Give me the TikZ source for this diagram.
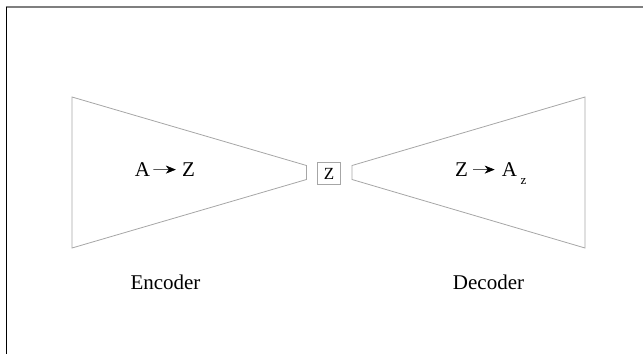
\documentclass[tikz,border=0pt]{standalone}
\usepackage{fontspec}
\setmainfont{Liberation Serif}
\usetikzlibrary{arrows.meta}
\definecolor{stageline}{HTML}{A6A6A6}
\definecolor{frameline}{HTML}{7F7F7F}
\tikzset{
  stage/.style={draw=stageline, line width=0.8pt, line join=miter},
  maplabel/.style={font=\fontsize{21}{24}\selectfont, inner sep=0pt, anchor=base},
  sublabel/.style={font=\fontsize{13}{14}\selectfont, inner sep=0pt, anchor=base},
  caption/.style={font=\fontsize{21}{24}\selectfont, inner sep=0pt, anchor=base},
  latentbox/.style={draw=stageline, line width=0.8pt, minimum width=23pt,
                    minimum height=22pt, inner sep=0pt, font=\fontsize{17}{17}\selectfont},
  mapsto/.style={-{Stealth[length=10pt, width=8pt, inset=3pt]}, line width=0.5pt},
}

\begin{document}
\begin{tikzpicture}[x=1pt, y=-1pt]
    \useasboundingbox (0,0) rectangle (643,354);
    \draw[frameline, line width=1.5pt] (5.5,7) -- (643,7);
    \draw[black, line width=1pt] (6,7) -- (6,354);
    \draw[stage] (72,97) -- (306.5,165.5) -- (306.5,179.5) -- (72,248) -- cycle;
    \draw[stage] (585,97) -- (352,165.5) -- (352,179.5) -- (585,248) -- cycle;
    \node[latentbox] (latent) at (329,173.5) {Z};
    \node[maplabel] (encin) at (142.5,176.5) {A};
    \node[maplabel] (encout) at (188.5,176.5) {Z};
    \draw[mapsto, shorten <=3pt, shorten >=6pt] (encin) -- (encout);
    \node[maplabel] (decin) at (461.5,176.5) {Z};
    \node[maplabel] (decout) at (509.5,176.5) {A};
    \node[sublabel] (decsub) at (523.5,184) {z};
    \draw[mapsto, shorten <=5pt, shorten >=7pt] (decin) -- (decout);
    \node[caption] (enccap) at (165.5,289) {Encoder};
    \node[caption] (deccap) at (488.5,289) {Decoder};
  \end{tikzpicture}
\end{document}
